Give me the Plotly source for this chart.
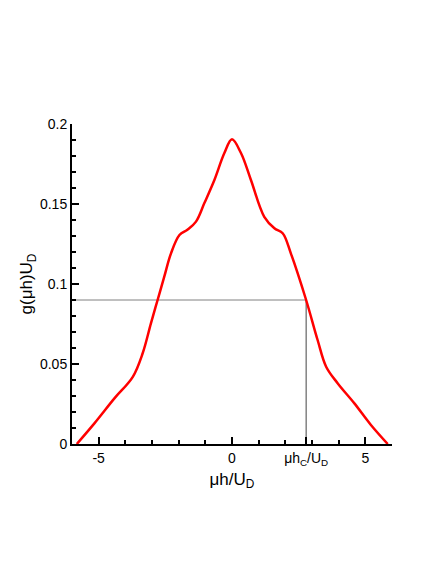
import plotly.graph_objects as go

# density curve g(mu h) U_D against mu h / U_D
mu_h = [-5.82, -5.16, -4.41, -3.72, -3.35, -3.04, -2.79, -2.54, -2.29, -1.97,
        -1.66, -1.35, -1.04, -0.66, -0.29, 0.0, 0.34, 0.71, 1.21, 1.59,
        1.9, 2.21, 2.78, 3.21, 3.53, 3.96, 4.59, 5.21, 5.84]
g_val = [0.0, 0.0129, 0.0285, 0.042, 0.0567, 0.0754, 0.09, 0.1046, 0.119, 0.1306,
         0.134, 0.139, 0.1504, 0.165, 0.1817, 0.1904, 0.1817, 0.165, 0.142, 0.1348,
         0.1317, 0.119, 0.09, 0.065, 0.0483, 0.038, 0.0254, 0.0119, 0.0]

# critical point
hc = 2.78
gc = 0.09

x_range = [-6, 6]
y_range = [0, 0.2]

x_major = [-5, 0, hc, 5]
x_major_text = ["-5", "0", "\u03bch<sub>C</sub>/U<sub>D</sub>", "5"]
x_minor = [-6, -4, -3, -2, -1, 1, 2, 3, 4, 6]
y_major = [0, 0.05, 0.1, 0.15, 0.2]
y_major_text = ["0", "0.05", "0.1", "0.15", "0.2"]

font = dict(family="Liberation Sans, Arial, sans-serif", size=14, color="black")

fig = go.Figure()

# guide lines to the critical point
fig.add_trace(go.Scatter(x=[x_range[0], hc], y=[gc, gc], mode="lines",
                         line=dict(color="#808080", width=1), hoverinfo="skip"))
fig.add_trace(go.Scatter(x=[hc, hc], y=[gc, 0], mode="lines",
                         line=dict(color="#444444", width=1), hoverinfo="skip"))

fig.add_trace(go.Scatter(x=mu_h, y=g_val, mode="lines", line_shape="spline",
                         line=dict(color="red", width=2.5)))

fig.update_xaxes(
    range=x_range, automargin=False,
    showline=True, linecolor="black", linewidth=2,
    ticks="inside", ticklen=7, tickwidth=1.5, tickcolor="black",
    tickmode="array", tickvals=x_major, ticktext=x_major_text,
    minor=dict(tickmode="array", tickvals=x_minor, ticks="inside",
               ticklen=4, tickwidth=1.5, tickcolor="black"),
    showgrid=False, zeroline=False,
    title=dict(text="\u03bch/U<sub>D</sub>", standoff=6),
)
fig.update_yaxes(
    range=y_range, automargin=False,
    showline=True, linecolor="black", linewidth=2,
    ticks="inside", ticklen=7, tickwidth=1.5, tickcolor="black",
    tickmode="array", tickvals=y_major, ticktext=y_major_text,
    minor=dict(dtick=0.01, ticks="inside", ticklen=4, tickwidth=1.5,
               tickcolor="black"),
    showgrid=False, zeroline=False,
    title=dict(text="g(\u03bch)U<sub>D</sub>", standoff=3),
)

fig.update_layout(
    width=436, height=569,
    margin=dict(l=64, r=52, t=116, b=133),
    paper_bgcolor="white", plot_bgcolor="white",
    showlegend=False,
    font=font,
)

fig.write_html("out.html")
